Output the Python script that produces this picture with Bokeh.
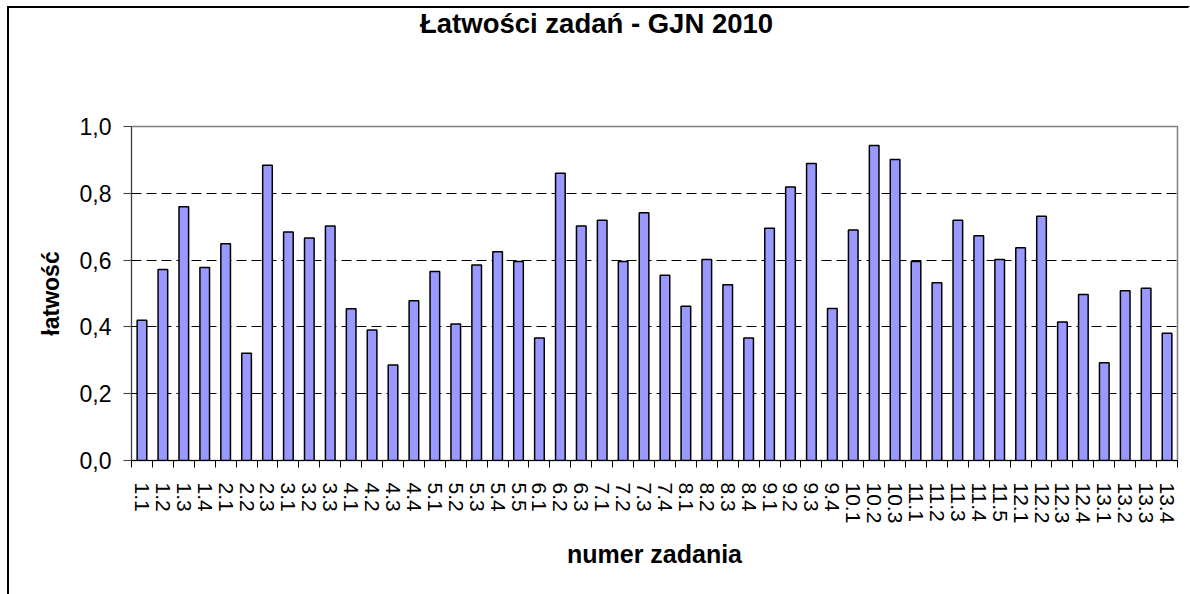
from bokeh.plotting import figure
from bokeh.models import Range1d, FixedTicker
from bokeh.layouts import column
from bokeh.core.properties import value
from bokeh.embed import file_html
from bokeh.resources import INLINE

tasks = ["1.1", "1.2", "1.3", "1.4", "2.1", "2.2", "2.3", "3.1", "3.2", "3.3",
         "4.1", "4.2", "4.3", "4.4", "5.1", "5.2", "5.3", "5.4", "5.5", "6.1",
         "6.2", "6.3", "7.1", "7.2", "7.3", "7.4", "8.1", "8.2", "8.3", "8.4",
         "9.1", "9.2", "9.3", "9.4", "10.1", "10.2", "10.3", "11.1", "11.2", "11.3",
         "11.4", "11.5", "12.1", "12.2", "12.3", "12.4", "13.1", "13.2", "13.3", "13.4"]
latwosc = [0.420, 0.572, 0.760, 0.578, 0.649, 0.321, 0.884, 0.684, 0.666, 0.702,
           0.454, 0.391, 0.286, 0.478, 0.566, 0.409, 0.585, 0.625, 0.596, 0.367,
           0.860, 0.702, 0.719, 0.596, 0.742, 0.555, 0.462, 0.602, 0.526, 0.367,
           0.695, 0.819, 0.889, 0.455, 0.690, 0.943, 0.901, 0.596, 0.532, 0.719,
           0.673, 0.602, 0.637, 0.731, 0.415, 0.497, 0.293, 0.508, 0.516, 0.381]
y_ticks = [0.0, 0.2, 0.4, 0.6, 0.8, 1.0]
y_tick_labels = ["0,0", "0,2", "0,4", "0,6", "0,8", "1,0"]
grid_ticks = [0.2, 0.4, 0.6, 0.8]
title_text = "Łatwości zadań - GJN 2010"

FONT = "Liberation Sans"
n = len(tasks)
xpos = list(range(1, n + 1))
bounds = [i + 0.5 for i in range(0, n + 1)]
W = 1179

# title strip (its frame is aligned with the chart frame by the column layout)
pt = figure(width=W, height=104, output_backend="svg", toolbar_location=None,
            x_range=Range1d(0, 1), y_range=Range1d(0, 1),
            x_axis_type=None, y_axis_type=None, min_border=0)
pt.grid.visible = False
pt.outline_line_color = None
pt.text(x=[0.4446], y=[0.86], text=[title_text], text_font=value(FONT),
        text_font_size=value("27.5px"), text_font_style="bold",
        text_align="center", text_baseline="alphabetic", text_color="black")

p = figure(width=W, height=482, output_backend="svg", toolbar_location=None,
           x_range=Range1d(0.5, n + 0.5), y_range=Range1d(0, 1),
           min_border_left=122, min_border_right=11, min_border_top=14,
           min_border_bottom=134)

p.vbar(x=xpos, top=latwosc, bottom=0, width=0.46, fill_color="#9999FF",
       line_color="black", line_width=1.5)

p.outline_line_color = "#808080"
p.outline_line_width = 1.5

p.xgrid.visible = False
p.ygrid.ticker = FixedTicker(ticks=grid_ticks)
p.ygrid.grid_line_color = "black"
p.ygrid.grid_line_dash = "10 5"
p.ygrid.grid_line_width = 1

xa = p.xaxis[0]
xa.ticker = FixedTicker(ticks=xpos, minor_ticks=bounds)
xa.major_label_overrides = {i: t for i, t in zip(xpos, tasks)}
xa.major_label_orientation = "vertical"
xa.major_tick_out = 0
xa.major_tick_in = 0
xa.minor_tick_out = 7
xa.minor_tick_in = 0
xa.minor_tick_line_color = "black"
xa.axis_line_color = "black"
xa.major_label_text_font = FONT
xa.major_label_text_font_size = "21px"
xa.major_label_text_color = "black"
xa.major_label_standoff = 15
xa.axis_label = "numer zadania"
xa.axis_label_text_font = FONT
xa.axis_label_text_font_size = "25px"
xa.axis_label_text_font_style = "bold"
xa.axis_label_text_color = "black"
xa.axis_label_standoff = 14

ya = p.yaxis[0]
ya.ticker = FixedTicker(ticks=y_ticks)
ya.major_label_overrides = {t: l for t, l in zip(y_ticks, y_tick_labels)}
ya.major_tick_out = 8
ya.major_tick_in = 0
ya.major_tick_line_color = "#404040"
ya.axis_line_color = "#404040"
ya.major_label_text_font = FONT
ya.major_label_text_font_size = "23px"
ya.major_label_text_color = "black"
ya.major_label_standoff = 12
ya.axis_label = "łatwość"
ya.axis_label_text_font = FONT
ya.axis_label_text_font_size = "23px"
ya.axis_label_text_font_style = "bold"
ya.axis_label_text_color = "black"
ya.axis_label_standoff = 13

layout = column(pt, p)
layout.styles = {"margin-left": "7px", "margin-top": "6px",
                 "box-sizing": "content-box",
                 "border-left": "2px solid black", "border-top": "2px solid black",
                 "border-right": "2px solid white"}

open("out.html", "w").write(file_html(layout, INLINE))
